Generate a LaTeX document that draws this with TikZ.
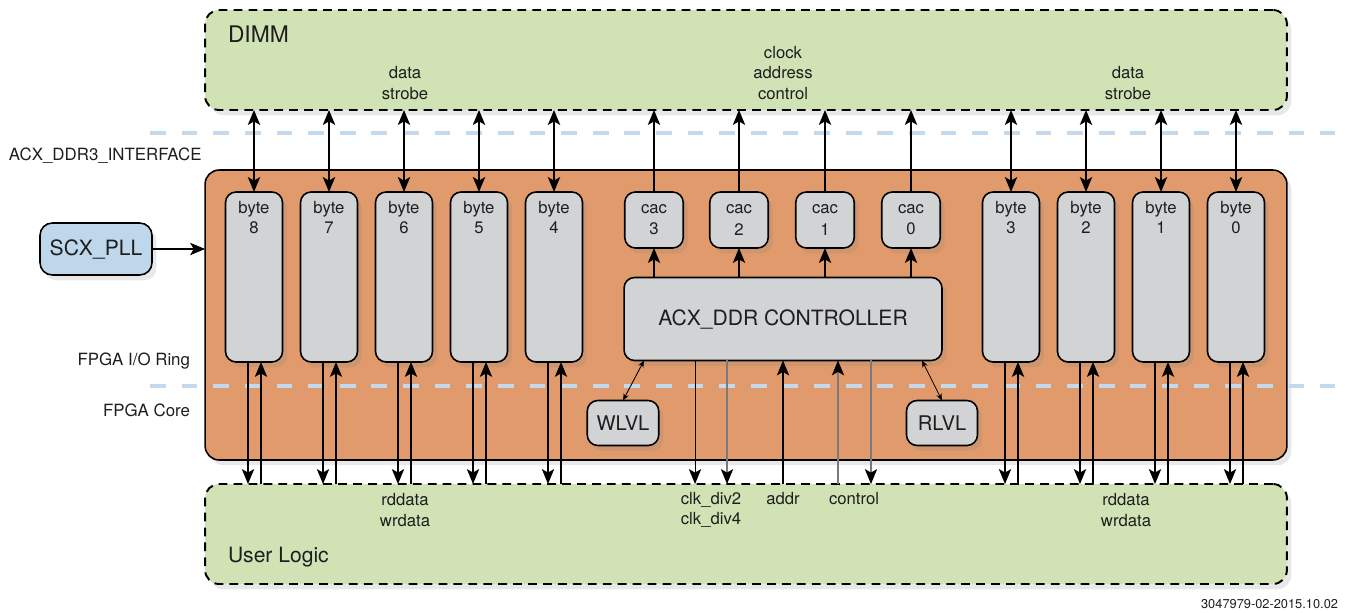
\documentclass[tikz,border=0pt]{standalone}
\usepackage{fontspec}
\setmainfont{TeX Gyre Heros}
\usetikzlibrary{arrows.meta,shadows}
\definecolor{acgreen}{HTML}{D1E3B4}
\definecolor{acorange}{HTML}{E09A6C}
\definecolor{acgrey}{HTML}{D2D3D5}
\definecolor{acblue}{HTML}{BED7EB}
\definecolor{acguide}{HTML}{C4D9EB}
\definecolor{acink}{HTML}{1E1E1E}
\definecolor{acwire}{HTML}{7A7A7A}

\begin{document}
\begin{tikzpicture}[
  x=0.02cm, y=-0.02cm,
  every node/.style={inner sep=0pt, outer sep=0pt, text=acink},
  soft/.style={drop shadow={opacity=0.18, shadow xshift=2.5pt, shadow yshift=-3pt}},
  zone/.style={draw=black, line width=1.1pt, dash pattern=on 5pt off 3.5pt,
    rounded corners=8pt, fill=acgreen, minimum width=21.64cm, minimum height=2cm, soft},
  ringbox/.style={draw=black, line width=0.9pt, rounded corners=8pt, fill=acorange,
    minimum width=21.64cm, minimum height=5.8cm, soft},
  blk/.style={draw=black, line width=0.9pt, rounded corners=6pt, fill=acgrey, soft},
  bytebox/.style={blk, minimum width=1.14cm, minimum height=3.4cm},
  cacbox/.style={blk, minimum width=1.17cm, minimum height=1.12cm, align=center,
    font=\fontsize{9.5}{12}\selectfont},
  lvlbox/.style={blk, minimum width=1.43cm, minimum height=0.9cm,
    font=\fontsize{11.5}{14}\selectfont},
  pllbox/.style={draw=black, line width=0.9pt, rounded corners=7pt, fill=acblue,
    minimum width=2.24cm, minimum height=1.04cm, soft, font=\fontsize{12}{14}\selectfont},
  lbl/.style={font=\fontsize{9.5}{11.5}\selectfont, align=center},
  side/.style={font=\fontsize{9.6}{12}\selectfont},
  ttl/.style={font=\fontsize{12}{14}\selectfont},
  guide/.style={draw=acguide, line width=2.2pt, dash pattern=on 9pt off 9pt},
  tip/.style={draw=black, line width=0.8pt, -{Stealth[length=8.5pt,width=7pt,inset=2pt]}},
  both/.style={draw=black, line width=1pt,
    {Stealth[length=8.5pt,width=7pt,inset=2pt]}-{Stealth[length=8.5pt,width=7pt,inset=2pt]}},
  thin/.style={draw=black, line width=0.6pt, -{Stealth[length=8.5pt,width=7pt,inset=2pt]}},
  grey/.style={draw=acwire, line width=0.6pt,
    -{Stealth[length=8.5pt,width=7pt,inset=2pt,color=black]}},
  small/.style={draw=black, line width=0.5pt,
    {Stealth[length=4pt,width=3.2pt]}-{Stealth[length=4pt,width=3.2pt]}},
]
\useasboundingbox (0,0) rectangle (1348,612);

% ---------- outer areas ----------
\node[zone] (dimm) at (746,60) {};
\node[zone] (ulogic) at (746,534) {};
\node[ringbox] (ring) at (746,315) {};

\node[font=\fontsize{13}{15}\selectfont, anchor=west] (dimmt) at (228,34) {DIMM};
\node[ttl, anchor=west] (ulogict) at (228,557) {User Logic};

% boundaries between the layers
\draw[guide] (150,133) -- (1335,133);
\draw[guide] (150,386) -- (1335,386);
\node[side, anchor=west] (ifc) at (9,156) {ACX\_DDR3\_INTERFACE};
\node[side, anchor=east] (ioring) at (190,361) {FPGA I/O Ring};
\node[side, anchor=east] (core) at (190,410) {FPGA Core};

% ---------- byte lanes ----------
\foreach \n/\x in {8/254, 7/329, 6/404, 5/479, 4/554, 3/1011, 2/1086, 1/1161, 0/1236}{
  \node[bytebox, anchor=north] (b\n) at (\x,192) {};
  \node[lbl, anchor=north] (b\n t) at (\x,201) {byte\\\n};
  \draw[both] (b\n.north |- dimm.south) -- (b\n.north);
  \draw[tip] ([xshift=-0.12cm]b\n.south) -- ([xshift=-0.12cm]b\n.south |- ulogic.north);
  \draw[tip] ([xshift=0.14cm]b\n.south |- ulogic.north) -- ([xshift=0.14cm]b\n.south);
}

% ---------- controller and cac ----------
\node[blk, minimum width=6.36cm, minimum height=1.66cm, font=\fontsize{12}{14}\selectfont]
  (ctrl) at (783,319) {ACX\_DDR CONTROLLER};
\foreach \n/\x in {3/654, 2/739, 1/825, 0/911}{
  \node[cacbox] (c\n) at (\x,220) {cac\\\n};
  \draw[tip] (c\n.north) -- (c\n.north |- dimm.south);
  \draw[tip] (ctrl.north -| c\n) -- (c\n.south);
}

\node[lvlbox] (wlvl) at (623,423) {WLVL};
\node[lvlbox, minimum width=1.42cm] (rlvl) at (942,423) {RLVL};
\draw[small] ([xshift=0.4cm]ctrl.south west) -- (wlvl.north);
\draw[small] ([xshift=-0.4cm]ctrl.south east) -- (rlvl.north);

% controller to user logic
\draw[thin] ([xshift=-1.76cm]ctrl.south) -- ([xshift=-1.76cm]ctrl.south |- ulogic.north);
\draw[grey] ([xshift=-1.12cm]ctrl.south) -- ([xshift=-1.12cm]ctrl.south |- ulogic.north);
\draw[thin] (ctrl.south |- ulogic.north) -- (ctrl.south);
\draw[grey] ([xshift=1.10cm]ctrl.south |- ulogic.north) -- ([xshift=1.10cm]ctrl.south);
\draw[grey] ([xshift=1.76cm]ctrl.south) -- ([xshift=1.76cm]ctrl.south |- ulogic.north);

% ---------- clock source ----------
\node[pllbox] (pll) at (96,249) {SCX\_PLL};
\draw[tip] (pll.east) -- (pll.east -| ring.west);

% ---------- signal names ----------
\node[lbl] (dql) at (405,83) {data\\strobe};
\node[lbl] (cacl) at (783,73) {clock\\address\\control};
\node[lbl] (dqr) at (1128,83) {data\\strobe};
\node[lbl] (rwl) at (405,510) {rddata\\wrdata};
\node[lbl] (rwr) at (1126,510) {rddata\\wrdata};
\node[lbl] (clkl) at (711,510) {clk\_div2\\clk\_div4};
\node[lbl] (addrl) at (783,499) {addr};
\node[lbl] (ctll) at (854,499) {control};

\node[font=\fontsize{7.3}{9}\selectfont, anchor=east] (docid) at (1338,604)
  {3047979-02-2015.10.02};

\end{tikzpicture}
\end{document}
